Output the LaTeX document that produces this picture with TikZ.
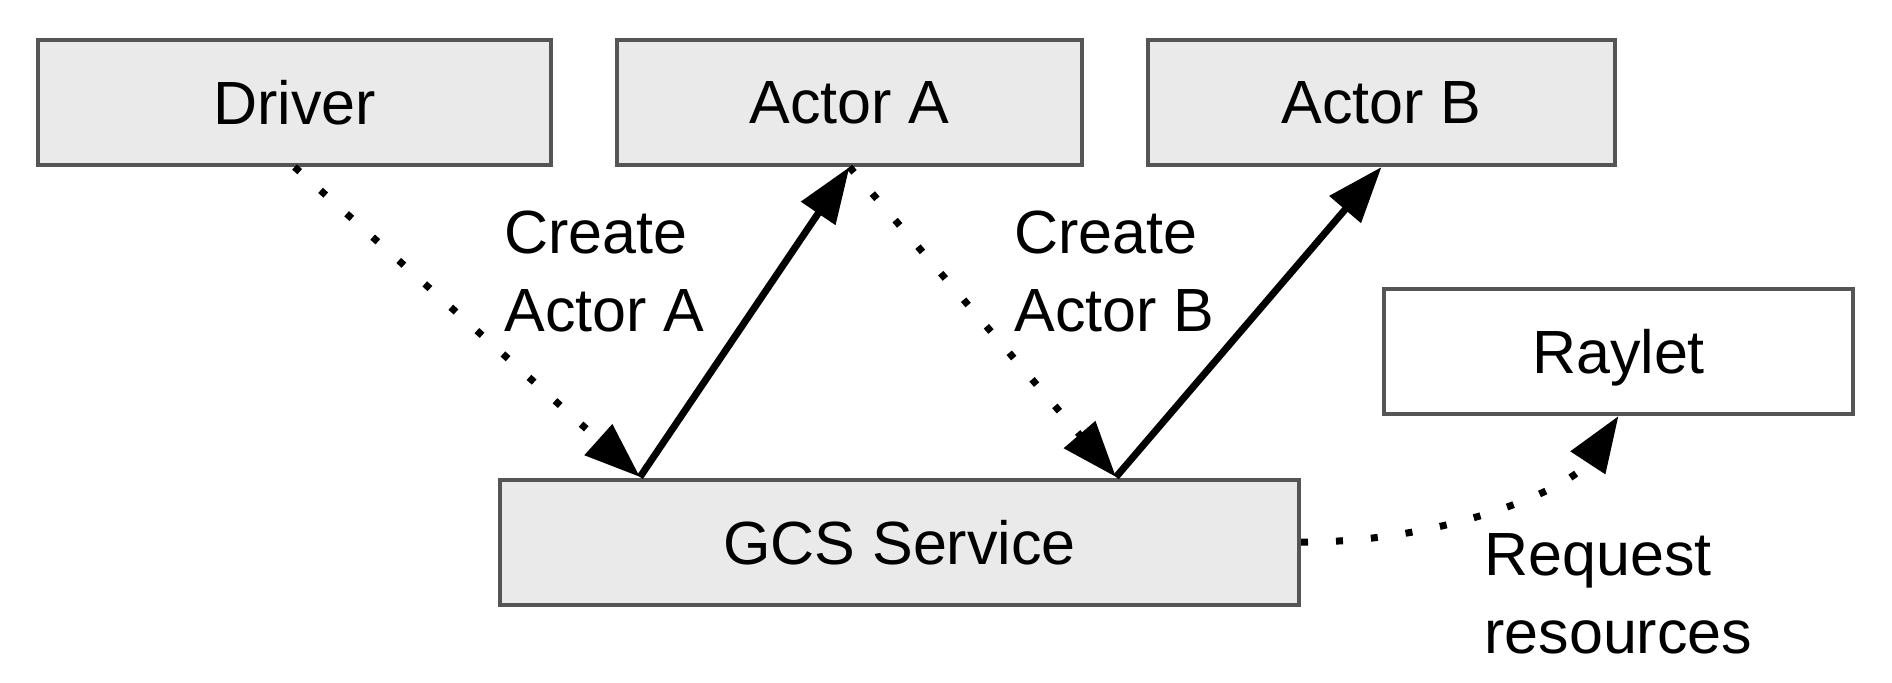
\documentclass[tikz,border=0pt]{standalone}
\usepackage{fontspec}
\setmainfont{Liberation Sans}
\usetikzlibrary{arrows.meta}

\tikzset{
  box/.style={draw={rgb,255:red,85;green,85;blue,85}, line width=2pt, fill={rgb,255:red,234;green,234;blue,234},
    minimum height=62.5pt, text depth=0pt, inner sep=0pt},
  plainbox/.style={box, fill=white},
  lbl/.style={anchor=north west, align=left, inner sep=0pt},
  solidarr/.style={line width=3.5pt, -{Triangle[length=28pt,width=20pt]}},
  dotarr/.style={line width=3.5pt, dash pattern={on 3.5pt off 14pt}, -{Triangle[length=28pt,width=20pt]}},
}

\begin{document}
\begin{tikzpicture}[x=0.5pt,y=0.5pt,yscale=-1,xscale=1,font=\fontsize{30.5}{39}\selectfont]
\useasboundingbox (0,0) rectangle (1892,682);

%Shape: Rectangle
\node [box, minimum width=256.5pt] (driver) at (294.5,102.5) {Driver};
%Shape: Rectangle
\node [box, minimum width=232.5pt] (actorA) at (849.5,102.5) {Actor A};
%Shape: Rectangle
\node [box, minimum width=233.5pt] (actorB) at (1381.5,102.5) {Actor B};
%Shape: Rectangle
\node [plainbox, minimum width=234.5pt] (raylet) at (1618.5,351.5) {Raylet};
%Shape: Rectangle
\node [box, minimum width=399.5pt] (gcs) at (899.5,542) {GCS Service};

\coordinate (gcsA) at (640,477);
\coordinate (gcsB) at (1116,477);

%Straight Lines
\draw [dotarr] (driver.south) -- (gcsA);
%Straight Lines
\draw [solidarr] (gcsA) -- (actorA.south);
%Straight Lines
\draw [dotarr] (actorA.south) -- (gcsB);
%Straight Lines
\draw [solidarr] (gcsB) -- (actorB.south);
%Curve Lines
\draw [dotarr] (gcs.east) .. controls (1440,543) and (1570,490) .. (raylet.south);

% Text Node
\node [lbl] (lblA) at (504,210) {Create\\Actor A};
% Text Node
\node [lbl] (lblB) at (1014,210) {Create\\Actor B};
% Text Node
\node [lbl] (lblR) at (1484,533) {Request\\resources};

\end{tikzpicture}
\end{document}
